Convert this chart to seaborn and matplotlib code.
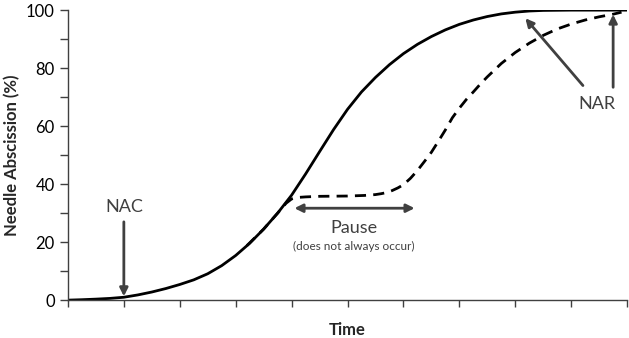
import matplotlib
matplotlib.use("Agg")
import matplotlib.pyplot as plt
import seaborn as sns
import pandas as pd

# values (time in tick units, abscission in %)
solid_time = [0, 0.25, 0.5, 0.75, 1.0, 1.25, 1.5, 1.75, 2.0, 2.25, 2.5, 2.75,
              3.0, 3.25, 3.5, 3.75, 4.0, 4.25, 4.5, 4.75, 5.0, 5.25, 5.5,
              5.75, 6.0, 6.25, 6.5, 6.75, 7.0, 7.25, 7.5, 7.75, 8.0, 8.25,
              8.5, 9.0, 10.0]
solid_pct = [0, 0.15, 0.35, 0.6, 1.0, 1.8, 2.8, 4.0, 5.4, 7.0, 9.1, 11.9,
             15.4, 19.6, 24.5, 30.0, 36.2, 43.5, 51.2, 58.8, 65.8, 71.8, 76.8,
             81.2, 85.0, 88.2, 90.9, 93.2, 95.1, 96.6, 97.8, 98.7, 99.3, 99.7,
             99.9, 100.0, 100.0]

pause_time = [3.2, 3.5, 3.75, 3.9, 4.0, 4.1, 4.25, 4.5, 5.0, 5.3, 5.5, 5.6,
              5.7, 5.8, 5.9, 6.0, 6.125, 6.25, 6.375, 6.5, 6.625, 6.75, 6.875,
              7.0, 7.125, 7.25, 7.375, 7.5, 7.75, 8.0, 8.25, 8.5, 8.75, 9.0,
              9.25, 9.5, 9.75, 9.9]
pause_pct = [18.8, 24.5, 30.0, 33.4, 34.9, 35.4, 35.6, 35.8, 35.9, 36.1, 36.4,
             36.7, 37.1, 37.8, 38.7, 39.8, 42.0, 44.7, 47.8, 51.0, 54.8, 58.7,
             62.9, 66.2, 69.2, 71.8, 74.5, 77.0, 81.6, 85.4, 88.6, 91.3, 93.5,
             95.2, 96.6, 97.7, 98.6, 99.3]

y_ticks = [0, 20, 40, 60, 80, 100]

sns.set_style("ticks")
plt.rcParams['font.family'] = ['Lato', 'DejaVu Sans']

solid = pd.DataFrame({'time': solid_time, 'pct': solid_pct})
paused = pd.DataFrame({'time': pause_time, 'pct': pause_pct})

fig = plt.figure(figsize=(6.29, 3.38), dpi=100)
ax = fig.add_axes([0.108, 0.112, 0.889, 0.858])

sns.lineplot(data=paused, x='time', y='pct', ax=ax, color='black',
             linewidth=2.0, linestyle=(0, (4, 2.6)), sort=False)
sns.lineplot(data=solid, x='time', y='pct', ax=ax, color='black',
             linewidth=2.0, sort=False)

ax.set_xlim(0, 10)
ax.set_ylim(0, 100)
ax.set_xticks(range(11))
ax.set_xticklabels([])
ax.set_yticks(y_ticks)
ax.set_yticks(range(10, 100, 20), minor=True)
ax.tick_params(axis='y', which='both', length=6, width=1, colors='#404040',
               labelsize=12, labelcolor='black')
ax.tick_params(axis='x', length=5, width=1, colors='#404040')
for side in ['left', 'bottom']:
    ax.spines[side].set_color('#404040')
    ax.spines[side].set_linewidth(1)
sns.despine(ax=ax)

ax.set_xlabel('Time', fontsize=12, fontweight='bold', labelpad=7)
ax.set_ylabel('Needle Abscission (%)', fontsize=12, fontweight='bold', labelpad=4)

arrow_kw = dict(arrowstyle='-|>', color='#404040', lw=2, mutation_scale=12,
                shrinkA=0, shrinkB=0)

# NAC
ax.annotate('', xy=(1.0, 1.3), xytext=(1.0, 27), arrowprops=arrow_kw)
ax.text(1.0, 32, 'NAC', ha='center', va='center', fontsize=13, color='#404040')

# Pause
ax.annotate('', xy=(4.05, 31.7), xytext=(6.2, 31.7),
            arrowprops=dict(arrowstyle='<|-|>', color='#404040', lw=2,
                            mutation_scale=12, shrinkA=0, shrinkB=0))
ax.text(5.12, 24.8, 'Pause', ha='center', va='center', fontsize=13, color='#404040')
ax.text(5.12, 18.6, '(does not always occur)', ha='center', va='center',
        fontsize=8.5, color='#404040')

# NAR
ax.annotate('', xy=(8.18, 97.2), xytext=(9.21, 74), arrowprops=arrow_kw)
ax.annotate('', xy=(9.75, 98.5), xytext=(9.75, 73.4), arrowprops=arrow_kw)
ax.text(9.46, 67.5, 'NAR', ha='center', va='center', fontsize=13, color='#404040')

fig.savefig('out.png', dpi=100)
